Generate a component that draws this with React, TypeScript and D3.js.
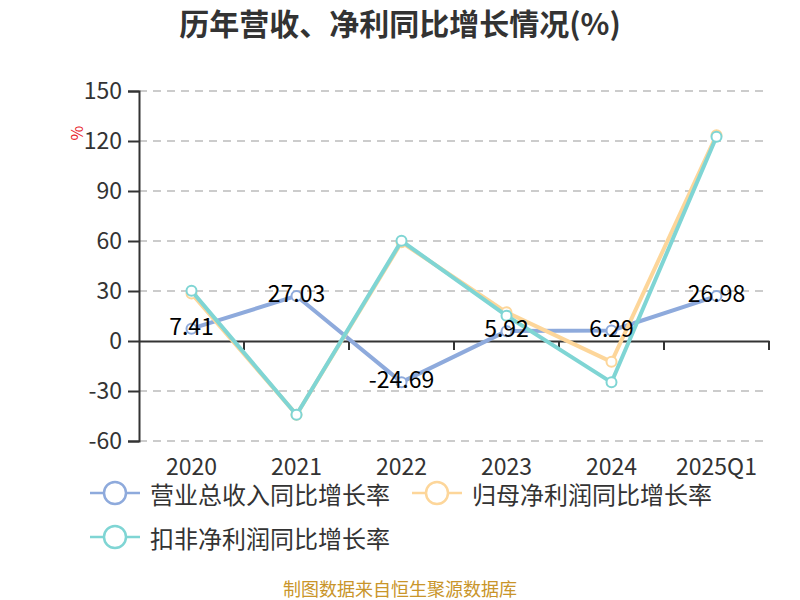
import { useRef, useEffect } from "react";
import * as d3 from "d3";

const categories = ["2020", "2021", "2022", "2023", "2024", "2025Q1"];
const revenueGrowth = [7.41, 27.03, -24.69, 5.92, 6.29, 26.98];
const netProfitGrowth = [28.5, -44.2, 59.2, 17.2, -12.5, 123.5];
const deductedProfitGrowth = [30.2, -44.3, 60.1, 15.2, -24.8, 122.6];
const yTicks = [-60, -30, 0, 30, 60, 90, 120, 150];

const seriesNames = ["营业总收入同比增长率", "归母净利润同比增长率", "扣非净利润同比增长率"];
const seriesColors = ["#8eaadc", "#fdd69a", "#7fd5d4"];

const FONT = '"Microsoft YaHei", "Noto Sans CJK SC", sans-serif';

const App = () => {
  const svgRef = useRef<SVGSVGElement | null>(null);
  const width = 800;
  const height = 600;

  useEffect(() => {
    if (!svgRef.current) return;
    const svg = d3.select(svgRef.current);
    svg.selectAll("*").remove();

    const left = 139;
    const right = 769;
    const top = 91;
    const bottom = 441;

    const x = d3.scaleBand<string>().domain(categories).range([left, right]);
    const y = d3.scaleLinear().domain([-60, 150]).range([bottom, top]);
    const cx = (c: string) => (x(c) ?? 0) + x.bandwidth() / 2;

    // title
    svg
      .append("text")
      .attr("x", 400)
      .attr("y", 22)
      .attr("text-anchor", "middle")
      .attr("dominant-baseline", "central")
      .attr("font-family", FONT)
      .attr("font-size", 30)
      .attr("font-weight", "bold")
      .attr("fill", "#333")
      .text("历年营收、净利同比增长情况(%)");

    // grid
    svg
      .append("g")
      .selectAll("line")
      .data(yTicks.filter((t) => t !== 0))
      .join("line")
      .attr("x1", left)
      .attr("x2", right)
      .attr("y1", (d) => y(d))
      .attr("y2", (d) => y(d))
      .attr("stroke", "#ccc")
      .attr("stroke-width", 2)
      .attr("stroke-dasharray", "8,6");

    // y axis
    const yAxis = svg
      .append("g")
      .attr("transform", `translate(${left},0)`)
      .call(
        d3
          .axisLeft(y)
          .tickValues(yTicks)
          .tickFormat((d) => String(d))
          .tickSize(11)
          .tickPadding(6)
      );
    yAxis.select(".domain").attr("stroke", "#333").attr("stroke-width", 2);
    yAxis.selectAll(".tick line").attr("stroke", "#333").attr("stroke-width", 2);
    yAxis
      .selectAll(".tick text")
      .attr("font-family", FONT)
      .attr("font-size", 23)
      .attr("fill", "#333");

    // x axis at zero
    const xAxis = svg
      .append("g")
      .attr("transform", `translate(0,${y(0)})`)
      .call(d3.axisBottom(x).tickSize(0).tickPadding(0).tickSizeOuter(0));
    xAxis.select(".domain").attr("stroke", "#333").attr("stroke-width", 2);
    xAxis.selectAll(".tick text").remove();
    // boundary ticks
    xAxis
      .selectAll(".bnd")
      .data(categories)
      .join("line")
      .attr("x1", (c) => (x(c) ?? 0) + x.bandwidth())
      .attr("x2", (c) => (x(c) ?? 0) + x.bandwidth())
      .attr("y1", 0)
      .attr("y2", 9)
      .attr("stroke", "#333")
      .attr("stroke-width", 2);

    // x labels at the bottom
    svg
      .append("g")
      .selectAll("text")
      .data(categories)
      .join("text")
      .attr("x", (c) => cx(c))
      .attr("y", 465)
      .attr("text-anchor", "middle")
      .attr("dominant-baseline", "central")
      .attr("font-family", FONT)
      .attr("font-size", 23)
      .attr("fill", "#333")
      .text((c) => c);

    // unit label
    svg
      .append("text")
      .attr("transform", "translate(76,133) rotate(-90)")
      .attr("text-anchor", "middle")
      .attr("dominant-baseline", "central")
      .attr("font-family", FONT)
      .attr("font-size", 16)
      .attr("fill", "#e8202a")
      .text("%");

    const allSeries = [revenueGrowth, netProfitGrowth, deductedProfitGrowth];
    const line = d3
      .line<number>()
      .x((_, i) => cx(categories[i]))
      .y((d) => y(d));

    allSeries.forEach((values, si) => {
      const g = svg.append("g");
      g.append("path")
        .datum(values)
        .attr("fill", "none")
        .attr("stroke", seriesColors[si])
        .attr("stroke-width", 4)
        .attr("stroke-linejoin", "round")
        .attr("d", line);
      g.selectAll("circle")
        .data(values)
        .join("circle")
        .attr("cx", (_, i) => cx(categories[i]))
        .attr("cy", (d) => y(d))
        .attr("r", 5)
        .attr("fill", "#fff")
        .attr("stroke", seriesColors[si])
        .attr("stroke-width", 2);
    });

    // data labels for revenue
    svg
      .append("g")
      .selectAll("text")
      .data(revenueGrowth)
      .join("text")
      .attr("x", (_, i) => cx(categories[i]))
      .attr("y", (d) => y(d) - 4)
      .attr("text-anchor", "middle")
      .attr("dominant-baseline", "central")
      .attr("font-family", FONT)
      .attr("font-size", 23)
      .attr("fill", "#000")
      .text((d) => d.toFixed(2));

    // legend
    const legendItems = [
      { x: 90, y: 493 },
      { x: 412, y: 493 },
      { x: 90, y: 537 },
    ];
    legendItems.forEach((pos, i) => {
      const g = svg.append("g").attr("transform", `translate(${pos.x},${pos.y})`);
      g.append("line")
        .attr("x1", 0)
        .attr("x2", 50)
        .attr("stroke", seriesColors[i])
        .attr("stroke-width", 2.5);
      g.append("circle")
        .attr("cx", 25)
        .attr("r", 11)
        .attr("fill", "#fff")
        .attr("stroke", seriesColors[i])
        .attr("stroke-width", 2.5);
      g.append("text")
        .attr("x", 60)
        .attr("dominant-baseline", "central")
        .attr("font-family", FONT)
        .attr("font-size", 24)
        .attr("fill", "#333")
        .text(seriesNames[i]);
    });

    // footer
    svg
      .append("text")
      .attr("x", 400)
      .attr("y", 588)
      .attr("text-anchor", "middle")
      .attr("dominant-baseline", "central")
      .attr("font-family", FONT)
      .attr("font-size", 18)
      .attr("fill", "#c9952a")
      .text("制图数据来自恒生聚源数据库");
  }, []);

  return (
    <div style={{ position: "absolute", left: 0, top: 0 }}>
      <svg ref={svgRef} width={width} height={height} style={{ background: "#fff" }}></svg>
    </div>
  );
};

export default App;
